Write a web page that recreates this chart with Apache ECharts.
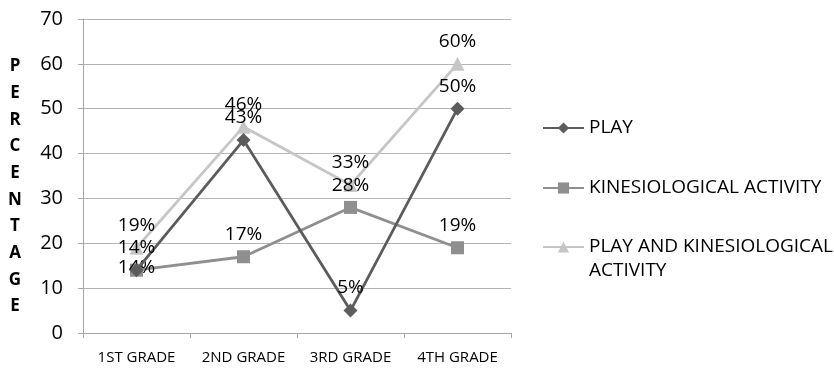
<!DOCTYPE html>
<html>
<head>
<meta charset="utf-8">
<script src="https://cdn.jsdelivr.net/npm/echarts@6/dist/echarts.min.js"></script>
<style>
  html, body { margin: 0; padding: 0; background: #fff; }
  #chart { width: 834px; height: 378px; }
</style>
</head>
<body>
<div id="chart"></div>
<script>
// Grades on the x axis
const grades = ['1ST GRADE', '2ND GRADE', '3RD GRADE', '4TH GRADE'];

// Percentages per grade
const play = [14, 43, 5, 50];
const kinesiological = [14, 17, 28, 19];
const playAndKinesiological = [19, 46, 33, 60];

// Value axis range
const yMin = 0;
const yMax = 70;
const yStep = 10;

const axisTitle = 'PERCENTAGE';
const FONT = '"Open Sans", sans-serif';

const chart = echarts.init(document.getElementById('chart'), null, { renderer: 'canvas' });

const labelStyle = {
  show: true,
  position: 'top',
  distance: 6,
  color: '#000',
  fontFamily: FONT,
  fontSize: 19,
  formatter: p => p.value + '%'
};

function series(name, values, color, symbol, size, z) {
  return {
    name: name,
    type: 'line',
    data: values.map(v => ({ value: v })),
    symbol: symbol,
    symbolSize: size,
    z: z,
    lineStyle: { color: color, width: 2.8 },
    itemStyle: { color: color },
    label: labelStyle,
    emphasis: { disabled: true },
    animation: false
  };
}

const playSeries = series('PLAY', play, '#5c5c5c', 'diamond', 14, 4);
const kinSeries = series('KINESIOLOGICAL ACTIVITY', kinesiological, '#8f8f8f', 'rect', 13, 3);
// the 1st-grade 14% labels coincide; this one sits on the point itself
kinSeries.data[0].label = { position: 'inside', offset: [0, -3] };
const pkSeries = series('PLAY AND KINESIOLOGICAL ACTIVITY', playAndKinesiological, '#c6c6c6', 'triangle', 14, 2);

function legendFor(name, top, extra) {
  return Object.assign({
    left: 542,
    top: top,
    orient: 'vertical',
    padding: 0,
    itemWidth: 41,
    itemHeight: 14,
    itemGap: 0,
    textStyle: { fontFamily: FONT, fontSize: 19, color: '#000', lineHeight: 24 },
    data: [name],
    selectedMode: false
  }, extra || {});
}

chart.setOption({
  backgroundColor: '#fff',
  animation: false,
  grid: { left: 83, right: 323, top: 19, bottom: 45 },
  xAxis: {
    type: 'category',
    data: grades,
    boundaryGap: true,
    axisLine: { lineStyle: { color: '#a6a6a6', width: 1 } },
    axisTick: { show: true, length: 5, lineStyle: { color: '#a6a6a6' } },
    axisLabel: { color: '#000', fontFamily: FONT, fontSize: 15, margin: 17, interval: 0 }
  },
  yAxis: {
    type: 'value',
    min: yMin,
    max: yMax,
    interval: yStep,
    axisLine: { show: true, lineStyle: { color: '#a6a6a6', width: 1 } },
    axisTick: { show: true, length: 5, lineStyle: { color: '#a6a6a6' } },
    axisLabel: { color: '#000', fontFamily: FONT, fontSize: 20, margin: 20 },
    splitLine: { show: true, lineStyle: { color: '#b5b5b5', width: 1 } }
  },
  legend: [
    legendFor('PLAY', 116),
    legendFor('KINESIOLOGICAL ACTIVITY', 176),
    // blank first line keeps the icon level with the first line of the wrapped name
    legendFor('PLAY AND KINESIOLOGICAL ACTIVITY', 211, {
      formatter: () => ' \nPLAY AND KINESIOLOGICAL\nACTIVITY'
    })
  ],
  graphic: [{
    type: 'text',
    x: 15,
    y: 53,
    style: {
      text: axisTitle.split('').join('\n'),
      font: 'bold 17px "Open Sans", sans-serif',
      lineHeight: 26.7,
      fill: '#000',
      align: 'center',
      verticalAlign: 'top'
    }
  }],
  series: [playSeries, kinSeries, pkSeries]
});
</script>
</body>
</html>
